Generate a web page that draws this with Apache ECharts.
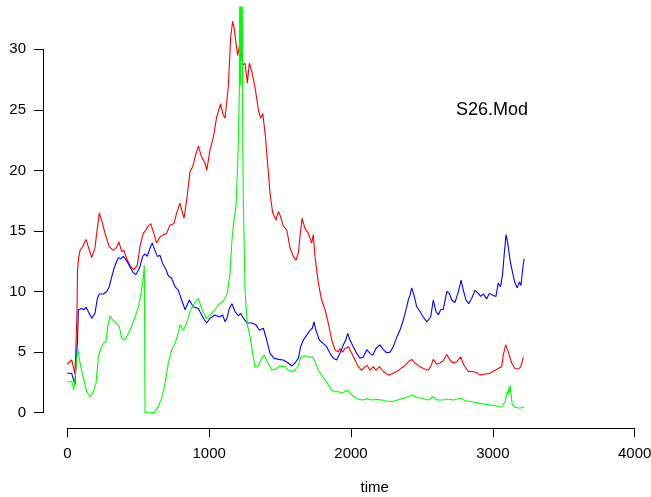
<!DOCTYPE html>
<html>
<head>
<meta charset="utf-8">
<script src="https://cdn.jsdelivr.net/npm/echarts@6/dist/echarts.min.js"></script>
<style>
  html, body { margin: 0; padding: 0; background: #fff; }
  #chart { width: 651px; height: 497px; }
</style>
</head>
<body>
<div id="chart"></div>
<script>
// S26.Mod time series: three traces sampled along the time axis
const redTime = [0,31,54,60,68,72,80,90,108,132,148,172,195,207,226,242,266,296,324,348,364,383,400,419,447,470,494,512,536,555,571,588,606,630,653,677,700,724,752,771,794,823,842,865,884,900,924,947,971,983,1006,1029,1053,1081,1095,1112,1135,1152,1166,1177,1189,1201,1217,1237,1253,1269,1283,1300,1323,1347,1363,1378,1394,1410,1429,1448,1471,1488,1500,1523,1547,1570,1593,1612,1629,1640,1655,1676,1699,1723,1734,1746,1770,1793,1817,1840,1864,1887,1911,1922,1941,1958,1981,2005,2028,2052,2075,2099,2115,2134,2157,2176,2200,2228,2263,2298,2322,2345,2381,2404,2428,2451,2486,2510,2545,2562,2580,2604,2627,2651,2675,2698,2721,2745,2773,2797,2827,2862,2890,2909,2945,2980,3015,3038,3062,3074,3091,3109,3133,3156,3180,3198,3215];
const redValues = [4.0,4.35,3.2,3.3,8.0,11.8,12.8,13.4,13.7,14.3,13.7,12.8,13.6,14.8,16.5,15.9,14.8,13.7,13.4,13.65,14.1,13.3,13.4,12.7,12.05,11.8,12.2,13.7,14.8,15.1,15.4,15.6,14.95,14.0,14.5,14.7,14.8,15.5,15.6,16.5,17.3,16.05,17.6,19.9,20.3,21.1,22.0,21.1,20.6,20.0,21.7,22.7,24.4,25.5,24.7,24.3,26.9,31.05,32.3,31.7,30.5,29.5,30.5,28.7,28.85,27.2,28.85,28.2,26.9,25.0,24.3,24.7,23.1,20.9,18.1,16.5,15.9,16.6,16.3,15.4,15.1,13.6,12.9,12.6,13.2,14.5,16.05,15.2,14.8,14.0,14.7,12.9,10.7,9.3,8.5,7.4,6.0,5.2,5.0,5.3,5.0,5.3,5.45,4.9,4.35,3.8,3.5,3.8,3.9,3.5,3.8,3.5,3.8,3.4,3.1,3.25,3.4,3.6,3.9,4.2,4.4,4.1,3.8,3.65,3.5,3.8,4.4,4.0,4.1,4.3,4.8,4.35,4.1,4.2,4.6,3.9,3.4,3.4,3.25,3.1,3.2,3.25,3.5,3.65,3.8,4.8,5.6,5.0,4.1,3.65,3.6,3.8,4.6];

const blueTime = [0,31,54,66,72,78,101,118,132,148,172,195,212,226,254,278,296,313,329,348,360,376,395,419,442,465,484,508,531,548,564,583,599,618,635,653,673,696,712,736,759,783,806,830,860,888,924,959,983,1006,1041,1072,1095,1112,1128,1142,1161,1182,1206,1222,1241,1269,1300,1330,1354,1382,1406,1429,1457,1488,1523,1558,1582,1605,1629,1645,1664,1688,1711,1727,1739,1753,1777,1805,1829,1852,1875,1899,1922,1946,1963,1977,1993,2016,2040,2063,2087,2111,2134,2153,2176,2204,2228,2252,2275,2298,2322,2345,2369,2388,2404,2416,2428,2444,2463,2486,2510,2534,2545,2562,2580,2599,2616,2632,2651,2675,2693,2710,2733,2757,2776,2792,2811,2830,2851,2874,2897,2914,2933,2957,2975,2999,3022,3038,3055,3069,3081,3093,3105,3121,3140,3156,3172,3187,3198,3210,3220];
const blueValues = [3.25,3.25,2.3,2.4,6.0,8.5,8.6,8.5,8.7,8.35,7.8,8.2,9.45,9.8,9.8,10.0,10.4,11.2,11.9,12.5,12.8,12.7,12.9,12.55,12.05,11.55,11.4,11.9,12.9,13.1,12.9,13.6,14.0,13.4,12.9,13.0,12.3,11.8,11.3,11.1,10.4,10.1,9.3,8.5,9.3,8.75,8.6,7.8,7.4,7.8,8.07,7.9,8.07,7.5,7.9,8.6,9.0,8.35,8.0,8.2,7.8,7.4,7.4,7.25,6.8,6.97,6.0,4.9,4.5,4.4,4.35,4.1,3.85,4.1,4.5,5.45,6.0,6.4,6.8,6.97,7.5,6.8,6.0,5.7,5.45,4.9,4.5,4.35,4.9,5.6,6.0,6.55,6.0,5.45,4.9,4.5,4.6,5.2,4.9,4.75,5.3,5.6,5.2,4.95,5.0,5.45,6.2,6.8,7.65,8.5,9.3,9.7,10.3,9.7,8.75,8.35,7.9,7.5,7.4,7.9,9.3,8.35,8.07,8.5,8.55,10.0,9.85,9.3,9.1,10.0,10.95,10.1,9.3,9.0,9.45,10.1,9.85,9.6,9.8,9.4,9.85,9.7,9.6,10.7,10.4,11.5,13.2,14.7,14.0,12.6,11.5,10.7,10.3,10.8,10.5,11.8,12.7];

const greenTime = [0,31,47,61,73,90,113,137,160,183,202,219,235,254,273,285,301,320,343,367,383,407,419,442,470,501,520,536,543,548,583,618,642,665,689,712,736,759,776,794,818,842,865,888,924,947,978,1006,1041,1072,1100,1128,1147,1161,1175,1189,1201,1208,1213,1217,1221,1225,1229,1233,1237,1241,1253,1269,1288,1307,1323,1347,1370,1389,1410,1441,1471,1499,1535,1558,1582,1605,1629,1645,1676,1711,1730,1746,1770,1793,1817,1840,1864,1887,1911,1934,1958,1977,1998,2021,2052,2087,2115,2146,2181,2216,2252,2287,2322,2369,2404,2428,2451,2498,2545,2580,2608,2651,2675,2721,2773,2804,2851,2909,2980,3027,3062,3086,3102,3108,3114,3118,3121,3128,3137,3156,3191,3220];
const greenValues = [2.56,2.56,1.9,1.9,5.3,4.1,2.85,1.75,1.27,1.75,2.4,4.6,5.3,5.7,5.9,7.1,8.0,7.65,7.4,7.1,6.15,6.0,6.15,6.8,7.65,8.75,9.85,11.2,12.2,0,0,0.05,0.5,1.2,2.4,4.1,5.2,5.7,6.3,7.25,6.8,7.4,8.35,8.9,9.45,8.6,7.8,8.07,8.5,9.0,9.17,9.85,11.5,14.3,15.9,17.0,20.3,23.6,26.5,40,27,40,30,38,22,17.6,10.1,7.25,6.3,4.9,3.8,3.85,4.5,4.75,4.2,3.5,3.6,3.85,3.8,3.5,3.4,3.5,3.9,4.57,4.7,4.57,4.6,4.2,3.5,3.1,2.7,2.3,1.87,1.73,1.73,1.65,1.73,1.87,1.54,1.32,1.1,1.05,1.16,1.05,1.1,1.05,0.97,0.91,1.02,1.19,1.32,1.49,1.32,1.19,1.05,1.32,1.05,1.05,1.13,1.05,1.19,0.99,0.91,0.77,0.64,0.55,0.45,0.91,1.73,1.5,2.1,1.7,2.29,1.6,0.64,0.45,0.36,0.5];

const xTicks = { min: 0, max: 4000, step: 1000 };
const yTicks = { min: 0, max: 30, step: 5 };
const plotLabel = 'S26.Mod';
const xName = 'time';

function zip(t, v) { return t.map((x, i) => [x, v[i]]); }

// Plot region spans the data range padded 4% on each side; axes sit just outside it
const xPad = 0.04 * (xTicks.max - xTicks.min);
const yDataMax = 32.2;
const yPad = 0.04 * yDataMax;

const font = "'Liberation Sans', Arial, Helvetica, sans-serif";
const chart = echarts.init(document.getElementById('chart'), null, { renderer: 'canvas' });

const axisCommon = {
  axisLine: { show: true, onZero: false, lineStyle: { color: '#000', width: 1 } },
  axisTick: { show: true, length: 9, lineStyle: { color: '#000', width: 1 } },
  splitLine: { show: false },
  axisLabel: { color: '#000', fontSize: 15, fontFamily: font, formatter: v => String(v) }
};

chart.setOption({
  animation: false,
  backgroundColor: '#fff',
  grid: [
    { left: 44.6, top: 7, width: 612.8, height: 421.3, outerBoundsMode: 'none', containLabel: false },
    { left: 67.3, top: 49.3, width: 567.4, height: 363.4, outerBoundsMode: 'none', containLabel: false }
  ],
  xAxis: [
    { type: 'value', gridIndex: 0, min: xTicks.min - xPad, max: xTicks.max + xPad, show: false },
    Object.assign({}, axisCommon, {
      type: 'value', gridIndex: 1, min: xTicks.min, max: xTicks.max, interval: xTicks.step,
      position: 'bottom', offset: 15.6,
      axisLabel: Object.assign({}, axisCommon.axisLabel, { margin: 18 })
    })
  ],
  yAxis: [
    { type: 'value', gridIndex: 0, min: -yPad, max: yDataMax + yPad, show: false },
    Object.assign({}, axisCommon, {
      type: 'value', gridIndex: 1, min: yTicks.min, max: yTicks.max, interval: yTicks.step,
      position: 'left', offset: 24.3,
      axisLabel: Object.assign({}, axisCommon.axisLabel, { margin: 17 })
    })
  ],
  series: [
    { type: 'line', xAxisIndex: 0, yAxisIndex: 0, data: zip(redTime, redValues), showSymbol: false, clip: true,
      lineStyle: { color: '#ff0000', width: 1.1 }, itemStyle: { color: '#ff0000' } },
    { type: 'line', xAxisIndex: 0, yAxisIndex: 0, data: zip(blueTime, blueValues), showSymbol: false, clip: true,
      lineStyle: { color: '#0000ff', width: 1.1 }, itemStyle: { color: '#0000ff' } },
    { type: 'line', xAxisIndex: 0, yAxisIndex: 0, data: zip(greenTime, greenValues), showSymbol: false, clip: true,
      lineStyle: { color: '#00ff00', width: 1.1 }, itemStyle: { color: '#00ff00' } }
  ],
  graphic: [
    { type: 'text', left: 456, top: 101, style: { text: plotLabel, fill: '#000', font: '18px ' + font } },
    { type: 'text', left: 360.5, top: 480, style: { text: xName, fill: '#000', font: '15px ' + font } }
  ]
});
</script>
</body>
</html>
